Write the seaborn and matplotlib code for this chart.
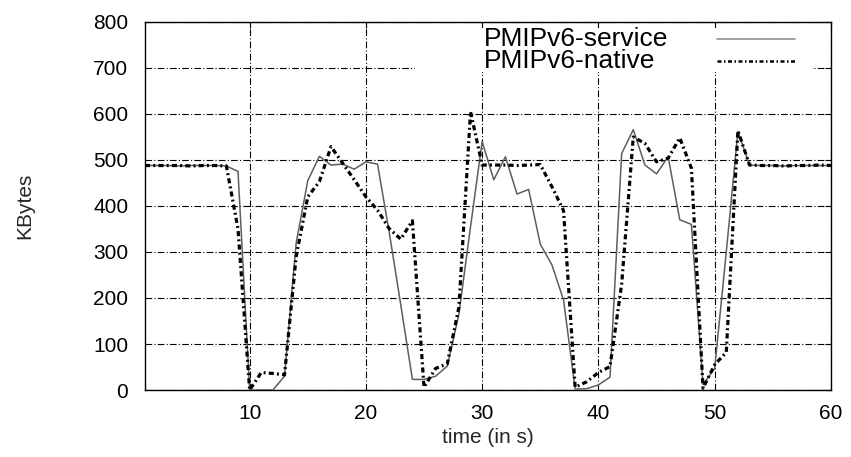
import matplotlib
matplotlib.use("Agg")
import matplotlib.pyplot as plt
from matplotlib.patches import Rectangle
import seaborn as sns
import pandas as pd

# time axis (seconds)
time_s = list(range(1, 61))

# throughput per second (KBytes)
pmip_service = [488, 488, 488, 487, 488, 488, 488, 487, 475, 0,
                0, 0, 30, 319, 455, 508, 489, 491, 480, 496,
                491, 344, 185, 23, 23, 30, 52, 165, 355, 540,
                457, 507, 426, 436, 317, 272, 196, 2, 3, 11,
                28, 514, 566, 489, 470, 507, 370, 360, 12, 47,
                300, 562, 489, 488, 488, 487, 488, 488, 488, 488]

pmip_native = [488, 488, 488, 488, 487, 488, 488, 487, 350, 0,
               38, 36, 33, 290, 420, 453, 529, 493, 457, 420,
               391, 351, 328, 368, 6, 47, 57, 180, 605, 489,
               489, 489, 488, 489, 490, 442, 390, 6, 18, 38,
               51, 230, 550, 536, 496, 504, 548, 482, 4, 55,
               82, 564, 489, 488, 488, 487, 488, 488, 489, 488]

series_names = ["PMIPv6-service", "PMIPv6-native"]
native_dash = (1.6, 1.0, 0.6, 1.0)

df = pd.DataFrame({
    "time": time_s * 2,
    "kbytes": pmip_service + pmip_native,
    "series": [series_names[0]] * len(time_s) + [series_names[1]] * len(time_s),
})

sns.set_theme(style="white")
plt.rcParams["font.family"] = ["Liberation Sans", "DejaVu Sans"]

fig = plt.figure(figsize=(8.51, 4.57), dpi=100)
ax = fig.add_axes([0.1704, 0.1466, 0.806, 0.8053])

sns.lineplot(data=df, x="time", y="kbytes", hue="series", style="series",
             palette={series_names[0]: "#5e5e5e", series_names[1]: "black"},
             dashes={series_names[0]: "", series_names[1]: native_dash},
             size="series", sizes={series_names[0]: 1.1, series_names[1]: 2.3},
             ax=ax, legend=False, zorder=3)

ax.set_xlim(1, 60)
ax.set_ylim(0, 800)
ax.set_xticks([10, 20, 30, 40, 50, 60])
ax.set_yticks(range(0, 801, 100))

ax.set_axisbelow(True)
ax.grid(True, color="black", linestyle=(0, (6, 2, 1, 2)), linewidth=0.8)

# white key area that hides the grid (gnuplot style)
ax.add_patch(Rectangle((0.394, 0.864), 0.578, 0.12, transform=ax.transAxes,
                       facecolor="white", edgecolor="none", zorder=1))

# key: left-aligned labels, sample lines on the right
key_y = [0.955, 0.895]
key_styles = [dict(color="#9a9a9a", linewidth=1.3, linestyle="-"),
              dict(color="black", linewidth=1.8, linestyle=(0, native_dash))]
for name, ky, st in zip(series_names, key_y, key_styles):
    ax.text(0.494, ky, name, transform=ax.transAxes, fontsize=19,
            ha="left", va="center", color="black", zorder=4)
    ax.plot([0.834, 0.948], [ky, ky], transform=ax.transAxes, zorder=4, **st)

for s in ax.spines.values():
    s.set_color("black")
    s.set_linewidth(1.0)

ax.tick_params(direction="in", length=4.5, width=0.8, top=True, right=True,
               labelsize=15, colors="black")
ax.tick_params(axis="y", pad=12)
ax.tick_params(axis="x", pad=10)

ax.set_xlabel("time (in s)", fontsize=15, va="center")
ax.set_ylabel("KBytes", fontsize=15, va="center")
ax.xaxis.set_label_coords(0.5, -0.128)
ax.yaxis.set_label_coords(-0.175, 0.5)

plt.savefig("out.png", dpi=100)
plt.close()
